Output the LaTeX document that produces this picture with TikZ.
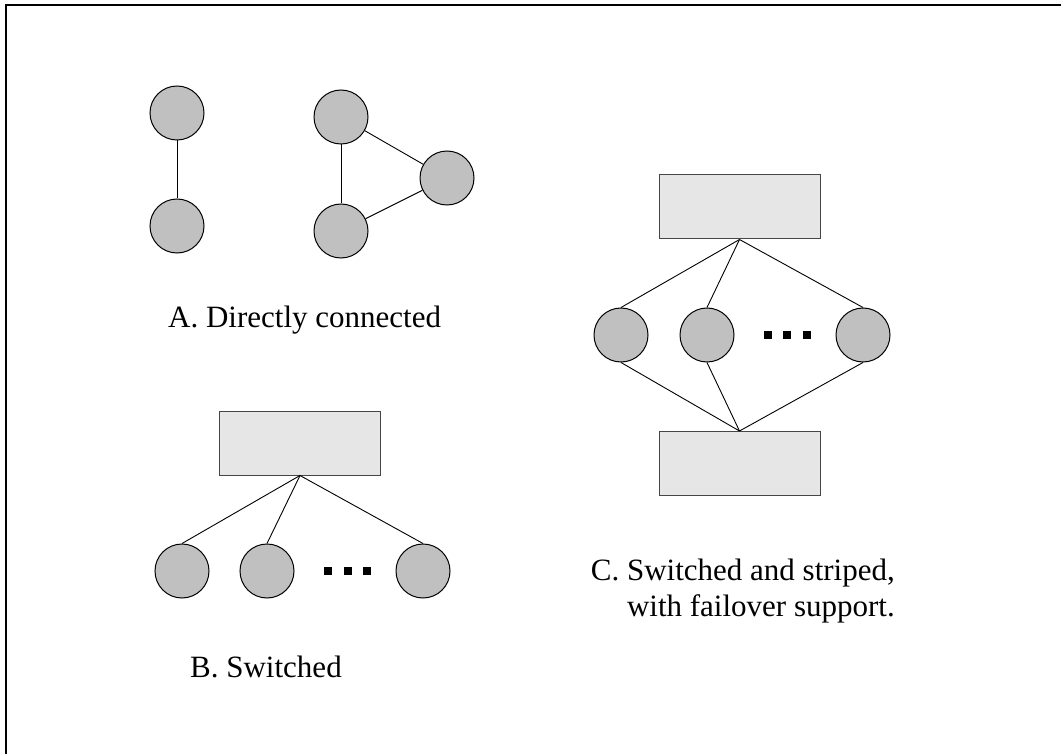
\documentclass[tikz,border=0pt]{standalone}
\usepackage{fontspec}
\setmainfont{Liberation Serif}
\begin{document}
\begin{tikzpicture}[x=1pt,y=-1pt,
  nodeC/.style={circle,draw=black,fill={rgb,255:red,192;green,192;blue,192},line width=1pt,minimum size=54pt,inner sep=0pt},
  swbox/.style={rectangle,draw={rgb,255:red,70;green,70;blue,70},fill={rgb,255:red,230;green,230;blue,230},line width=1pt,minimum width=161pt,minimum height=64pt,inner sep=0pt},
  dotsq/.style={rectangle,fill=black,minimum size=8pt,inner sep=0pt},
  link/.style={draw=black,line width=0.9pt},
  lbl/.style={font=\fontsize{31}{36}\selectfont,inner sep=0pt}]
\useasboundingbox (0,0) rectangle (1061,754);
\coordinate (bl) at (6,754);
\coordinate (tl) at (6,5);
\coordinate (tr) at (1061,5);
\draw[line width=2pt] (bl) -- (tl) -- (tr);
% A
\node[nodeC] (a1) at (177,113) {};
\node[nodeC] (a2) at (177,226) {};
\node[nodeC] (t1) at (341,117) {};
\node[nodeC] (t2) at (341,231) {};
\node[nodeC] (t3) at (447,178) {};
\draw[link] (a1) -- (a2);
\draw[link] (t1) -- (t2);
\draw[link] (t1) -- (t3);
\draw[link] (t2) -- (t3);
\node[lbl,anchor=base west] (la) at (168,327) {A. Directly connected};
% B
\node[swbox] (sb) at (300,443) {};
\node[nodeC] (b1) at (182,571) {};
\node[nodeC] (b2) at (267,571) {};
\node[nodeC] (b3) at (423,571) {};
\node[dotsq] (bd1) at (328,571) {};
\node[dotsq] (bd2) at (348,571) {};
\node[dotsq] (bd3) at (367,571) {};
\draw[link] (sb.south) -- (b1.north);
\draw[link] (sb.south) -- (b2.north);
\draw[link] (sb.south) -- (b3.north);
\node[lbl,anchor=base west] (lb) at (190,677) {B. Switched};
% C
\node[swbox] (ct) at (739.5,207) {};
\node[swbox] (cb) at (739.5,463.5) {};
\node[nodeC] (c1) at (621,335) {};
\node[nodeC] (c2) at (707,335) {};
\node[nodeC] (c3) at (863,335) {};
\node[dotsq] (cd1) at (768,335) {};
\node[dotsq] (cd2) at (787,335) {};
\node[dotsq] (cd3) at (807,335) {};
\draw[link] (ct.south) -- (c1.north);
\draw[link] (ct.south) -- (c2.north);
\draw[link] (ct.south) -- (c3.north);
\draw[link] (c1.south) -- (cb.north);
\draw[link] (c2.south) -- (cb.north);
\draw[link] (c3.south) -- (cb.north);
\node[lbl,anchor=north east,align=right] (lc) at (895,559) {C. Switched and striped,\\with failover support.};
\end{tikzpicture}
\end{document}
